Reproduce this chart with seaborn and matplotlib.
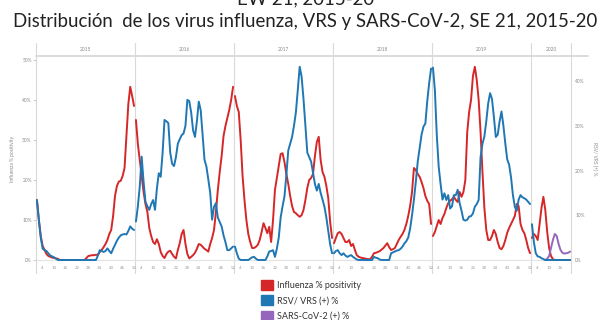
import numpy as np
import pandas as pd
import matplotlib
matplotlib.use("Agg")
import matplotlib.pyplot as plt
import matplotlib.transforms as mtransforms
from matplotlib.patches import Rectangle
import seaborn as sns

# ---- data: weekly % positivity by epidemiological week (SE) ----
years = ["2015", "2016", "2017", "2018", "2019", "2020"]
weeks_per_year = [52, 52, 52, 52, 52, 21]
week_ticks = [4, 10, 16, 22, 28, 34, 40, 46, 52]

flu_2015 = [15, 10, 6, 3.5, 2.5, 1.5, 1, 0.8, 0.6, 0.5, 0.4, 0.3,
            0, 0, 0, 0, 0, 0, 0, 0, 0, 0, 0, 0, 0, 0,
            0.5, 1, 1.1, 1.2, 1.2, 1.3, 1.3, 2, 2.5, 3.2, 4, 5, 6.5, 7.5,
            11, 16, 18.5, 19.6, 19.8, 21, 23, 31, 39, 43.3, 41, 38.5]
flu_2016 = [35, 29, 25, 21, 17, 14, 12, 8, 6, 4.5,
            4, 5.2, 4, 2, 1, 0.5, 1.5, 2.1, 2.3, 1.5,
            0.8, 0.4, 2.5, 4.2, 6.5, 7.5, 4, 1.5, 0.4, 0.8,
            1.2, 1.8, 2.8, 4, 3.8, 3.3, 2.8, 2.5, 2.1, 4,
            5.5, 7.5, 12, 17.5, 22, 26, 31, 33.5, 35.5, 37.5,
            40, 43.3]
flu_2017 = [41, 38.5, 37, 30, 21, 15, 10, 6.5, 4.5, 3,
            3, 3.3, 3.8, 5, 7, 9.2, 8, 6.7, 8.3, 4.5,
            10, 17.5, 20.5, 23.5, 26.5, 26.7, 24.5, 21.5, 19, 16,
            13.5, 12, 11.7, 11.2, 10.8, 11.2, 12.5, 15, 18, 20,
            20.5, 21.5, 26, 29.5, 30.8, 25, 22, 20.8, 18.5, 15.5,
            9.5, 5.5]
flu_2018 = [4.2, 5.5, 6.7, 7, 6.5, 5.5, 4.5, 4.5, 5, 3.5,
            4, 2.5, 1.2, 0.8, 0.6, 0.5, 0.4, 0.3, 0.2, 0.2,
            0.8, 1.7, 1.8, 2, 2.2, 2.6, 3, 3.6, 4.2, 3.2,
            2.5, 2.7, 3, 4, 5, 5.8, 6.5, 7.5, 9, 11,
            13.5, 17, 23, 22.5, 21.5, 20.8, 19.5, 18, 16, 14.8,
            14, 9]
flu_2019 = [6, 7, 8.5, 10, 9, 10.5, 11.5, 13, 14.2, 14.8,
            15.2, 15.8, 15, 14.5, 17, 15.8, 17, 20, 32, 37,
            40, 46, 48.3, 45, 40, 32, 22, 13, 7.5, 5,
            5, 6, 7.5, 6.5, 4.5, 3, 2.7, 3.5, 5, 6.8,
            8, 9, 10, 11, 14, 13.5, 9, 7.5, 6.7, 5,
            3, 1.7]
flu_2020 = [5.5, 6.5, 6, 5, 9, 13, 15.8, 12.5, 7, 3,
            1, 0.2, 0, 0, 0, 0, 0, 0, 0, 0, 0]

rsv_2015 = [13.4, 9, 5, 2.5, 2.2, 2, 1.5, 1, 0.8, 0.6, 0.3,
            0, 0, 0, 0, 0, 0, 0, 0, 0, 0, 0, 0, 0, 0, 0, 0, 0, 0, 0, 0, 0,
            1, 2.2, 2, 1.8, 2, 2.6, 2, 1.5, 2.5, 3.4,
            4.3, 5, 5.5, 5.7, 5.8, 5.7, 6.5, 7.5, 7, 6.7]
rsv_2016 = [8.6, 12, 16.4, 23.1, 17.5, 13, 12, 11.2, 12.5, 13.4,
            11.2, 16, 19.4, 18.6, 24, 31.3, 31, 30.6, 24, 21.5,
            21, 23, 26, 27, 27.9, 28.3, 30, 35.8, 35.5, 33,
            29, 27.5, 31, 35.4, 33.5, 28, 22.4, 20.9, 18, 15,
            9, 11.9, 12.7, 9.5, 8.5, 7.5, 5.5, 4, 2.2, 2.2,
            2.6, 3]
rsv_2017 = [3, 1.5, 0.3, 0, 0, 0, 0, 0, 0.3, 0.6,
            0.7, 0.3, 0, 0, 0, 0, 0, 0.8, 1.9, 2,
            2.2, 0.7, 2.5, 5, 9.5, 12, 14.2, 19, 24.5, 26,
            27.5, 30, 33, 38, 43.2, 41, 36, 30, 24, 23,
            22, 19.5, 17, 15.5, 17, 15, 13.5, 11.9, 9.5, 6.5,
            3.5, 1.5]
rsv_2018 = [1.5, 2, 2.2, 1.5, 1.1, 1.5, 1, 0.7, 0.9, 1.1, 0.7, 0.4, 0.1,
            0, 0, 0, 0, 0, 0, 0, 0,
            0.7, 0.5, 0.4, 0.1,
            0, 0, 0, 0, 0,
            1.5, 1.7, 1.9, 2.1, 2.2, 2.5, 3, 3.7, 4.2, 5, 7,
            10, 13.5, 17.5, 22, 25, 28, 29.8, 30.5, 35.5, 39.5, 42.8]
rsv_2019 = [43, 38, 28, 20.9, 17, 13.5, 14.9, 13.4, 14.5, 11.5,
            12, 14.5, 14.5, 15.7, 12.7, 11, 9, 8.8, 9, 9.7,
            9.8, 10.4, 11.9, 12.5, 13.4, 23, 26, 27.6, 31, 35,
            37.3, 36, 32, 27.5, 28, 31, 33.2, 30, 26, 22.5,
            21.3, 18.5, 14.5, 11.9, 11, 13.5, 14.5, 14, 13.8, 13.5,
            13, 12.5]
rsv_2020 = [8, 4, 1.5, 0.8, 0.7, 0.4, 0.2, 0, 0, 0,
            0, 0, 0, 0, 0, 0, 0, 0, 0, 0, 0]

sars_2020 = [np.nan] * 7 + [0, 0.3, 1, 3, 5, 6.5, 6, 4, 2.5, 1.8, 1.6, 1.7, 1.8, 2.1]

flu = [flu_2015, flu_2016, flu_2017, flu_2018, flu_2019, flu_2020]
rsv = [rsv_2015, rsv_2016, rsv_2017, rsv_2018, rsv_2019, rsv_2020]
sars = [[np.nan] * 52] * 5 + [sars_2020]

rows = []
offset = 0
for y, n, f, r, s in zip(years, weeks_per_year, flu, rsv, sars):
    for w in range(1, n + 1):
        rows.append({"year": y, "week": w, "idx": offset + w - 1,
                     "flu": f[w - 1], "rsv": r[w - 1], "sars": s[w - 1]})
    offset += n
df = pd.DataFrame(rows)
total_weeks = offset

# ---- style ----
sns.set_theme(style="white")
plt.rcParams["font.family"] = ["Lato", "DejaVu Sans"]

RED = "#d62728"
BLUE = "#1f77b4"
PURPLE = "#9467bd"
GRID = "#d9d9d9"
TXT = "#8a8a8a"

W, H = 611, 320
fig = plt.figure(figsize=(W / 100, H / 100), dpi=100)
left_px, right_px, top_px, bot_px = 36, 571, 56, 262
ax = fig.add_axes([left_px / W, 1 - bot_px / H,
                   (right_px - left_px) / W, (bot_px - top_px) / H])

sns.lineplot(data=df, x="idx", y="flu", units="year", estimator=None,
             color=RED, lw=1.4, ax=ax)
sns.lineplot(data=df, x="idx", y="sars", units="year", estimator=None,
             color=PURPLE, lw=1.4, ax=ax)
ax2 = ax.twinx()
sns.lineplot(data=df, x="idx", y="rsv", units="year", estimator=None,
             color=BLUE, lw=1.4, ax=ax2)

ax.set_xlim(-0.5, total_weeks - 0.5)
ax.set_ylim(-0.5, 51)
ax2.set_ylim(-0.45, 45.6)

for a in (ax, ax2):
    for sp in a.spines.values():
        sp.set_visible(False)
    a.set_xlabel("")

# y axes
ax.set_yticks([0, 10, 20, 30, 40, 50])
ax.set_yticklabels([f"{v}%" for v in [0, 10, 20, 30, 40, 50]])
ax.tick_params(axis="y", left=True, length=2, width=0.5, color="#bbbbbb",
               labelsize=3.5, labelcolor=TXT, pad=1)
ax2.set_yticks([0, 10, 20, 30, 40])
ax2.set_yticklabels([f"{v}%" for v in [0, 10, 20, 30, 40]])
ax2.tick_params(axis="y", right=True, length=0, labelsize=3.5,
                labelcolor=TXT, pad=3)
ax.set_ylabel("Influenza % positivity", fontsize=3.5, color=TXT, labelpad=5)
ax2.set_ylabel("RSV/ VRS (+) %", fontsize=3.5, color=TXT, rotation=270,
               labelpad=9)

# x axis: week numbers within each year panel
xt, xl = [], []
off = 0
for n in weeks_per_year:
    for w in week_ticks:
        if w <= n:
            xt.append(off + w - 1)
            xl.append(str(w))
    off += n
ax.set_xticks(xt)
ax.set_xticklabels(xl)
ax.tick_params(axis="x", bottom=False, length=0, labelsize=3.2,
               labelcolor="#a0a0a0", pad=3)

# panel frame: year separators, header band and baseline
tr = mtransforms.blended_transform_factory(ax.transData, ax.transAxes)
bounds = [-0.5]
off = 0
for n in weeks_per_year:
    off += n
    bounds.append(off - 0.5)
for b in bounds:
    ax.plot([b, b], [-0.055, 1.065], transform=tr, color=GRID, lw=0.8,
            clip_on=False, zorder=0)
ax.plot([0, (588 - left_px) / (right_px - left_px)], [1.0, 1.0],
        transform=ax.transAxes, color=GRID, lw=1.3, clip_on=False, zorder=0)
ax.axhline(0, color="#e3e3e3", lw=0.8, zorder=0)

off = 0
for y, n in zip(years, weeks_per_year):
    ax.text(off + n / 2 - 0.5, 1.032, y, transform=tr, ha="center",
            va="center", fontsize=3.5, color=TXT)
    off += n

# titles
fig.text(0.5, 1 + 1 / H, "EW 21, 2015-20", ha="center", va="center",
         fontsize=13.4, color="#222222")
fig.text(0.5, 1 - 22 / H, "Distribución  de los virus influenza, VRS y SARS-CoV-2, SE 21, 2015-20",
         ha="center", va="center", fontsize=13.4, color="#222222")

# legend
handles = [Rectangle((0, 0), 1, 1, color=c) for c in (RED, BLUE, PURPLE)]
labels = ["Influenza % positivity", "RSV/ VRS (+) %", "SARS-CoV-2 (+) %"]
fig.legend(handles, labels, loc="upper left",
           bbox_to_anchor=(261 / W, 1 - 279.5 / H), frameon=False,
           fontsize=6.5, handlelength=1.35, handleheight=1.35,
           handletextpad=0.45, labelspacing=0.6, borderpad=0,
           borderaxespad=0, labelcolor="#333333")

fig.savefig("out.png", dpi=100, facecolor="white")
